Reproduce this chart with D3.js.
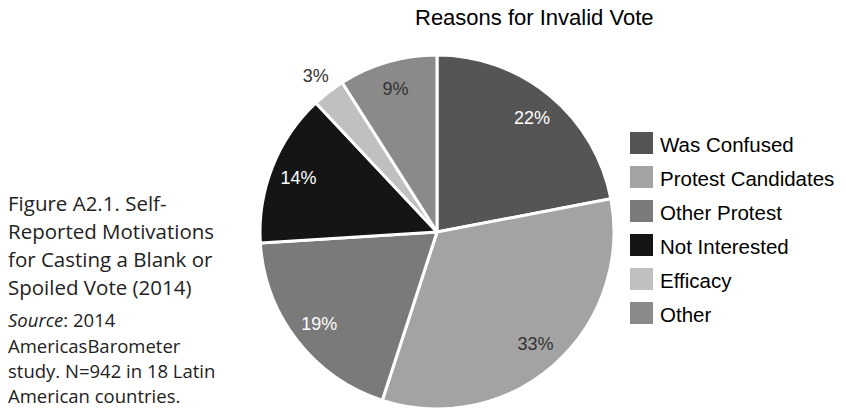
<!DOCTYPE html>
<html>
<head>
<meta charset="utf-8">
<script src="https://cdn.jsdelivr.net/npm/d3@7"></script>
<style>
  html, body { margin: 0; padding: 0; background: #fff; }
  svg { display: block; }
</style>
</head>
<body>
<svg id="chart" width="846" height="413"></svg>
<script>
const categories = ["Was Confused", "Protest Candidates", "Other Protest", "Not Interested", "Efficacy", "Other"];
const values = [22, 33, 19, 14, 3, 9];
const colors = ["#555555", "#a3a3a3", "#7a7a7a", "#151515", "#c0c0c0", "#8a8a8a"];
const labelColors = ["#ffffff", "#333333", "#ffffff", "#ffffff", "#333333", "#333333"];
const labelOutside = [false, false, false, false, true, false];
const title = "Reasons for Invalid Vote";
const captionMain = ["Figure A2.1. Self-", "Reported Motivations", "for Casting a Blank or", "Spoiled Vote (2014)"];
const captionSource = [["Source", ": 2014"], ["", "AmericasBarometer"], ["", "study. N=942 in 18 Latin"], ["", "American countries."]];

const svg = d3.select("#chart");
const W = 846, H = 413;
const cx = 437, cy = 232, R = 177;

const data = categories.map((c, i) => ({ cat: c, value: values[i], i }));

const pie = d3.pie().value(d => d.value).sort(null);
const arcs = pie(data);
const arc = d3.arc().innerRadius(0).outerRadius(R);
const labelArcIn = d3.arc().innerRadius(149).outerRadius(149);
const labelArcOut = d3.arc().innerRadius(198).outerRadius(198);

const g = svg.append("g").attr("transform", `translate(${cx},${cy})`);
g.selectAll("path.slice").data(arcs).enter().append("path")
  .attr("class", "slice")
  .attr("d", arc)
  .attr("fill", d => colors[d.data.i])
  .attr("stroke", "#ffffff")
  .attr("stroke-width", 3)
  .attr("stroke-linejoin", "round");

g.selectAll("text.lbl").data(arcs).enter().append("text")
  .attr("class", "lbl")
  .attr("transform", d => {
    const p = (labelOutside[d.data.i] ? labelArcOut : labelArcIn).centroid(d);
    return `translate(${p[0]},${p[1]})`;
  })
  .attr("text-anchor", "middle")
  .attr("dy", "0.36em")
  .attr("font-family", "'Liberation Sans', Arial, Helvetica, sans-serif")
  .attr("font-size", 18)
  .attr("fill", d => labelColors[d.data.i])
  .text(d => d.data.value + "%");

// Title
svg.append("text")
  .attr("x", 415).attr("y", 25)
  .attr("text-anchor", "start")
  .attr("font-family", "'Liberation Sans', Arial, Helvetica, sans-serif")
  .attr("font-size", 22)
  .attr("fill", "#000")
  .text(title);

// Legend
const legend = svg.append("g").attr("transform", "translate(630,132)");
const li = legend.selectAll("g").data(data).enter().append("g")
  .attr("transform", (d, i) => `translate(0,${i * 34})`);
li.append("rect").attr("width", 23).attr("height", 22).attr("fill", d => colors[d.i]);
li.append("text")
  .attr("x", 30).attr("y", 20)
  .attr("font-family", "'Liberation Sans', Arial, Helvetica, sans-serif")
  .attr("font-size", 20.5)
  .attr("fill", "#000")
  .text(d => d.cat);

// Caption
const cap = svg.append("g").attr("font-family", "'Open Sans', 'Noto Sans', sans-serif").attr("fill", "#222");
captionMain.forEach((t, i) => {
  cap.append("text").attr("x", 8).attr("y", 211 + i * 28).attr("font-size", 20.5).text(t);
});
const srcY = [327, 353, 378, 403];
captionSource.forEach((parts, i) => {
  const t = cap.append("text").attr("x", 8).attr("y", srcY[i]).attr("font-size", 18.5);
  if (parts[0]) t.append("tspan").attr("font-style", "italic").text(parts[0]);
  t.append("tspan").text(parts[1]);
});
</script>
</body>
</html>
